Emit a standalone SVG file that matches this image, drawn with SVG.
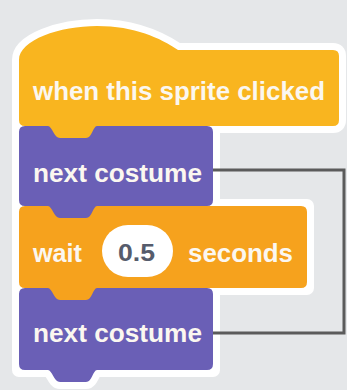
<svg xmlns="http://www.w3.org/2000/svg" width="347" height="390" viewBox="0 0 347 390">
<style>
.lbl{font-family:"Liberation Sans",Arial,sans-serif;font-weight:bold;font-size:25px;fill:#fbf7f0}
.num{font-family:"Liberation Sans",Arial,sans-serif;font-weight:bold;font-size:23px;fill:#565c6c}
.outline{fill:#ffffff;stroke:#ffffff;stroke-width:14;stroke-linejoin:round}
.conn{fill:none;stroke:#5b5b5b;stroke-width:3}
</style>
<rect width="347" height="390" fill="#e5e7e9"/>
<g id="outline">
<path class="outline" d="M19,60 C19,40 60,26 97,26 C135,26 160,38 178,50 L333,50 Q339,50 339,56 L339,120 Q339,126 333,126 L213,126 L213,206 L307,206 L307,288 L213,288 L213,370 L97,370 C93,370 92,382 86,382 L60,382 C54,382 52,370 48,370 L19,370 Z"/>
</g>
<g id="next2">
<path fill="#6a5fb6" d="M19,294 Q19,288 25,288 L207,288 Q213,288 213,294 L213,364 Q213,370 207,370 L97,370 C93,370 92,382 86,382 L60,382 C54,382 52,370 48,370 L25,370 Q19,370 19,364 Z"/>
<text class="lbl" x="33" y="342" textLength="169" lengthAdjust="spacingAndGlyphs">next costume</text>
</g>
<g id="wait">
<path fill="#f6a21d" d="M19,212 Q19,206 25,206 L301,206 Q307,206 307,212 L307,282 Q307,288 301,288 L97,288 C93,288 92,300 86,300 L60,300 C54,300 52,288 48,288 L25,288 Q19,288 19,282 Z"/>
<text class="lbl" x="33" y="262" textLength="49" lengthAdjust="spacingAndGlyphs">wait</text>
<rect x="102" y="225" width="71" height="52" rx="26" fill="#ffffff"/>
<text class="num" x="118" y="261" textLength="37" lengthAdjust="spacingAndGlyphs">0.5</text>
<text class="lbl" x="188" y="262" textLength="105" lengthAdjust="spacingAndGlyphs">seconds</text>
</g>
<g id="next1">
<path fill="#6a5fb6" d="M19,132 Q19,126 25,126 L207,126 Q213,126 213,132 L213,200 Q213,206 207,206 L97,206 C93,206 92,218 86,218 L60,218 C54,218 52,206 48,206 L25,206 Q19,206 19,200 Z"/>
<text class="lbl" x="33" y="182" textLength="169" lengthAdjust="spacingAndGlyphs">next costume</text>
</g>
<g id="hat">
<path fill="#f9b51f" d="M19,60 C19,40 60,26 97,26 C135,26 160,38 178,50 L333,50 Q339,50 339,56 L339,120 Q339,126 333,126 L97,126 C93,126 92,138 86,138 L60,138 C54,138 52,126 48,126 L25,126 Q19,126 19,120 Z"/>
<text class="lbl" x="33" y="100" textLength="292" lengthAdjust="spacingAndGlyphs">when this sprite clicked</text>
</g>
<g id="connectors">
<path class="conn" d="M213,170 H344 V333 H213"/>
</g>
</svg>
